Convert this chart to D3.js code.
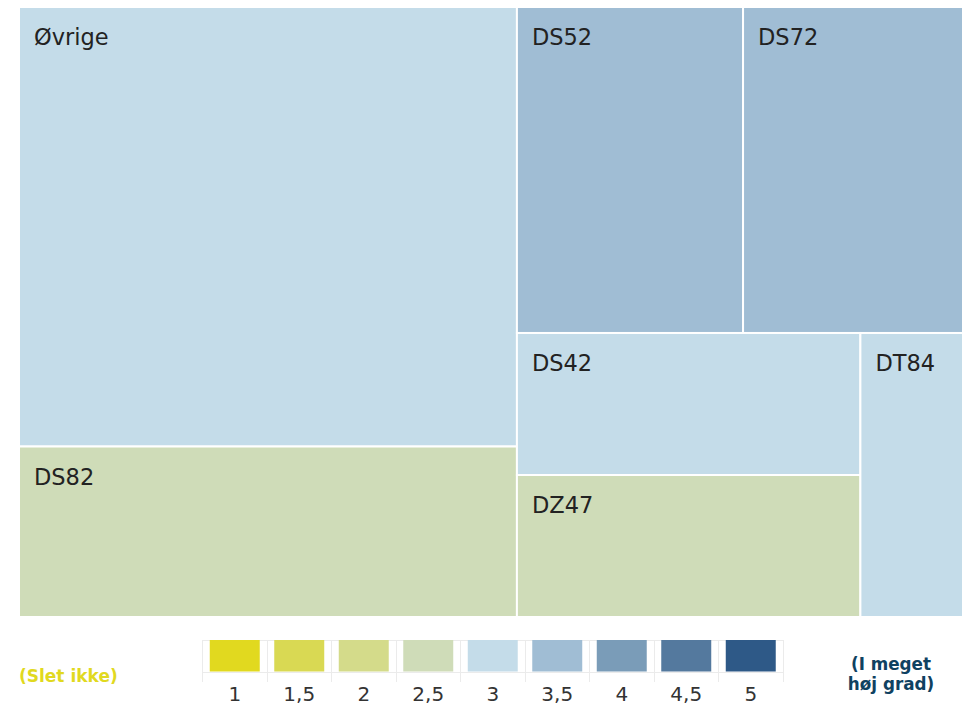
<!DOCTYPE html>
<html>
<head>
<meta charset="utf-8">
<script src="https://cdn.jsdelivr.net/npm/d3@7"></script>
<style>
  html, body { margin: 0; padding: 0; background: #fff; }
  svg { display: block; }
</style>
</head>
<body>
<svg id="chart" width="962" height="706"></svg>
<script>
// Treemap items: share of the total (area) and score (colour class)
const categories = ["Øvrige", "DS82", "DS52", "DS72", "DS42", "DZ47", "DT84"];
const sizes      = [38.0, 14.74, 12.8, 12.45, 8.47, 8.47, 5.06];
const scores     = [3, 2.5, 3.5, 3.5, 3, 2.5, 3];

// Colour classes shown in the legend
const legendSteps  = [1, 1.5, 2, 2.5, 3, 3.5, 4, 4.5, 5];
const legendLabels = ["1", "1,5", "2", "2,5", "3", "3,5", "4", "4,5", "5"];
const legendColors = ["#e1d91f", "#d9d953", "#d4db8a", "#cfdcb8", "#c4dce9",
                      "#a0bdd4", "#7a9cb8", "#54799e", "#2e5987"];
const lowLabel  = "(Slet ikke)";
const highLabel = ["(I meget", "høj grad)"];

const FONT = "'DejaVu Sans', Verdana, sans-serif";
const svg = d3.select("#chart");

const color = d3.scaleOrdinal().domain(legendSteps).range(legendColors);

// ---- Treemap ----
const items = categories.map((name, i) => ({ name, size: sizes[i], score: scores[i] }));
const root = d3.hierarchy({ children: items })
  .sum(d => d.size || 0)
  .sort((a, b) => b.value - a.value);

d3.treemap()
  .tile(d3.treemapSquarify)
  .size([944, 610])
  .round(false)(root);

const tm = svg.append("g").attr("transform", "translate(19,7)");
const cell = tm.selectAll("g.cell")
  .data(root.leaves())
  .join("g")
  .attr("class", "cell");

cell.append("rect")
  .attr("x", d => d.x0)
  .attr("y", d => d.y0)
  .attr("width", d => d.x1 - d.x0)
  .attr("height", d => d.y1 - d.y0)
  .attr("fill", d => color(d.data.score))
  .attr("stroke", "#ffffff")
  .attr("stroke-width", 2);

cell.append("text")
  .attr("x", d => d.x0 + 15)
  .attr("y", d => d.y0 + 38)
  .attr("font-family", FONT)
  .attr("font-size", 22.5)
  .attr("fill", "#222222")
  .text(d => d.data.name);

// ---- Legend ----
const lx = d3.scaleBand()
  .domain(legendLabels)
  .range([202.5, 783])
  .paddingInner(0.225)
  .paddingOuter(0.1125);
const step = lx.step();
const gap = step * lx.paddingInner();
const boundaries = legendLabels.map(l => lx(l) - gap / 2).concat([lx(legendLabels[legendLabels.length - 1]) + lx.bandwidth() + gap / 2]);

const lg = svg.append("g");
const gridColor = "#ebebeb";

lg.append("line")
  .attr("x1", boundaries[0]).attr("x2", boundaries[boundaries.length - 1])
  .attr("y1", 640.5).attr("y2", 640.5)
  .attr("stroke", gridColor).attr("stroke-width", 1);
lg.append("line")
  .attr("x1", boundaries[0]).attr("x2", boundaries[boundaries.length - 1])
  .attr("y1", 672.5).attr("y2", 672.5)
  .attr("stroke", gridColor).attr("stroke-width", 1);
lg.selectAll("line.div")
  .data(boundaries)
  .join("line")
  .attr("class", "div")
  .attr("x1", d => Math.round(d) + 0.5).attr("x2", d => Math.round(d) + 0.5)
  .attr("y1", 640).attr("y2", 682)
  .attr("stroke", gridColor).attr("stroke-width", 1);

lg.selectAll("rect.box")
  .data(legendSteps)
  .join("rect")
  .attr("class", "box")
  .attr("x", (d, i) => lx(legendLabels[i]))
  .attr("y", 640)
  .attr("width", lx.bandwidth())
  .attr("height", 31.5)
  .attr("fill", d => color(d));

lg.selectAll("text.lab")
  .data(legendLabels)
  .join("text")
  .attr("class", "lab")
  .attr("x", d => lx(d) + lx.bandwidth() / 2)
  .attr("y", 701)
  .attr("text-anchor", "middle")
  .attr("font-family", FONT)
  .attr("font-size", 20)
  .attr("fill", "#333333")
  .text(d => d);

svg.append("text")
  .attr("x", 19)
  .attr("y", 682)
  .attr("font-family", FONT)
  .attr("font-size", 17)
  .attr("font-weight", "bold")
  .attr("fill", color(1))
  .text(lowLabel);

svg.append("text")
  .attr("x", 891)
  .attr("y", 670)
  .attr("text-anchor", "middle")
  .attr("font-family", FONT)
  .attr("font-size", 16.8)
  .attr("font-weight", "bold")
  .attr("fill", "#0f4161")
  .selectAll("tspan")
  .data(highLabel)
  .join("tspan")
  .attr("x", 891)
  .attr("dy", (d, i) => i === 0 ? 0 : 19.6)
  .text(d => d);
</script>
</body>
</html>
